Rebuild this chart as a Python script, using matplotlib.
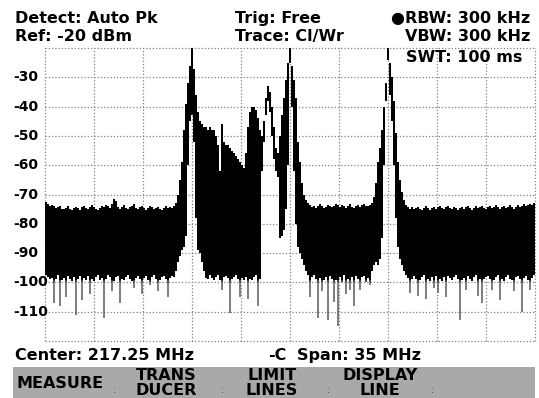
import numpy as np
import matplotlib
matplotlib.use("Agg")
import matplotlib.pyplot as plt
import matplotlib.transforms as mtransforms
from matplotlib.patches import Rectangle

# ---- instrument settings -------------------------------------------------
center_mhz = 217.25
span_mhz = 35.0
ref_dbm = -20
db_per_div = 10
n_div = 10

header_left = ["Detect: Auto Pk", "Ref: -20 dBm"]
header_mid = ["Trig: Free", "Trace: Cl/Wr"]
header_right = ["\u25cfRBW: 300 kHz", "VBW: 300 kHz", "SWT: 100 ms"]
footer_center = "Center: 217.25 MHz"
footer_span = "Span: 35 MHz"
softkeys = ["MEASURE", "TRANS\nDUCER", "LIMIT\nLINES", "DISPLAY\nLINE", ""]
y_tick_labels = [-30, -40, -50, -60, -70, -80, -90, -100, -110]

# ---- trace: max / min envelope per display column (dBm) -------------------
trace_max = [
    -72.5, -73.2, -73.8, -73.5, -74.0, -74.6, -74.2, -73.9, -74.8, -75.1,
    -74.5, -74.0, -74.9, -75.3, -74.6, -74.1, -74.7, -75.2, -74.4, -73.8,
    -74.5, -75.0, -74.3, -73.7, -74.2, -74.9, -75.4, -74.6, -74.0, -74.4,
    -73.6, -73.9, -74.5, -73.2, -71.6, -72.3, -74.1, -74.8, -74.2, -73.7,
    -74.5, -75.1, -74.3, -73.9, -73.4, -74.6, -75.0, -74.2, -73.8, -74.7,
    -75.2, -74.5, -73.9, -74.3, -75.0, -74.6, -74.1, -74.8, -75.3, -74.5,
    -74.0, -74.6, -74.2, -74.5, -74.0, -73.0, -70.0, -65.0, -59.0, -48.0,
    -39.0, -32.0, -26.0, -20.0, -27.0, -36.0, -42.0, -45.0, -46.0, -47.0,
    -47.0, -48.0, -47.0, -48.0, -48.0, -50.0, -53.0, -62.0, -46.0, -52.0,
    -53.0, -53.0, -54.0, -55.0, -56.0, -57.0, -58.0, -59.0, -60.0, -61.0,
    -56.0, -47.0, -42.0, -40.0, -40.0, -41.0, -44.0, -48.0, -50.0, -45.0,
    -37.0, -33.0, -35.0, -40.0, -47.0, -54.0, -56.0, -50.0, -43.0, -37.0,
    -31.0, -25.0, -20.0, -26.0, -31.0, -37.0, -52.0, -59.0, -66.0, -70.0,
    -72.0, -73.0, -73.6, -74.2, -73.8, -74.5, -73.9, -73.3, -74.0, -74.6,
    -74.1, -73.5, -73.8, -74.4, -73.9, -73.2, -73.7, -74.3, -73.6, -74.0,
    -74.5, -73.8, -73.4, -74.1, -74.6, -73.9, -73.5, -74.2, -73.7, -73.2,
    -73.8, -74.0, -73.5, -72.8, -71.0, -66.0, -59.0, -54.0, -48.0, -40.0,
    -32.0, -20.0, -25.0, -30.0, -38.0, -49.0, -59.0, -65.0, -69.0, -72.0,
    -73.5, -74.2, -74.8, -74.3, -75.0, -74.6, -74.1, -74.9, -75.2, -74.5,
    -74.0, -74.7, -75.3, -74.6, -74.2, -74.8, -74.4, -73.9, -74.6, -75.1,
    -74.3, -73.8, -74.5, -75.0, -74.2, -74.7, -75.3, -74.5, -74.1, -74.8,
    -74.4, -73.9, -74.6, -75.2, -74.5, -74.0, -74.7, -74.3, -73.8, -74.5,
    -75.0, -74.4, -73.9, -74.6, -74.2, -73.7, -74.4, -74.9, -74.3, -73.8,
    -74.5, -74.1, -73.6, -74.3, -74.8, -74.2, -73.7, -74.4, -73.9, -73.4,
    -74.0, -73.6, -73.2, -73.5, -73.0,
]
trace_min = [
    -97.5, -98.2, -99.0, -98.4, -107.0, -98.7, -97.6, -108.0, -99.2, -98.5,
    -105.0, -97.8, -98.9, -99.5, -98.1, -111.0, -99.0, -97.9, -106.0, -98.6,
    -99.3, -97.7, -104.0, -98.8, -99.6, -98.0, -97.4, -99.1, -98.5, -112.0,
    -98.9, -97.6, -98.3, -103.0, -99.4, -98.2, -97.9, -107.0, -98.8, -99.3,
    -98.1, -97.5, -98.9, -99.6, -102.0, -98.4, -97.8, -99.0, -104.0, -98.6,
    -97.9, -99.2, -101.0, -98.3, -97.6, -98.8, -103.0, -99.1, -98.2, -97.7,
    -99.0, -105.0, -98.5, -97.8, -98.0, -96.0, -93.0, -91.0, -89.0, -88.0,
    -84.0, -60.0, -45.0, -43.0, -52.0, -78.0, -89.0, -90.0, -93.0, -96.0,
    -98.5, -99.0, -97.6, -98.4, -99.2, -98.0, -97.5, -99.1, -102.6, -98.3,
    -97.8, -98.6, -110.5, -99.0, -98.2, -97.6, -98.9, -105.0, -98.4, -99.2,
    -98.1, -105.5, -98.7, -99.3, -98.0, -97.5, -108.0, -99.0, -62.0, -52.0,
    -43.0, -38.0, -42.0, -50.0, -58.0, -62.0, -64.0, -85.0, -84.0, -82.0,
    -75.0, -60.0, -25.0, -40.0, -62.0, -80.0, -88.0, -90.0, -92.0, -94.0,
    -96.0, -97.5, -105.0, -98.2, -97.6, -99.0, -112.0, -98.4, -103.0, -99.1,
    -98.0, -113.0, -97.7, -98.8, -106.7, -99.2, -115.0, -98.1, -100.0, -97.6,
    -104.0, -98.9, -102.6, -98.2, -108.0, -97.8, -99.0, -102.6, -98.3, -97.9,
    -100.0, -98.5, -101.0, -96.0, -94.0, -93.0, -94.0, -92.0, -85.0, -60.0,
    -38.0, -24.0, -36.0, -45.0, -60.0, -78.0, -88.0, -92.0, -94.0, -96.0,
    -97.5, -98.6, -103.6, -99.0, -97.8, -98.9, -104.7, -99.3, -98.1, -97.6,
    -105.6, -98.7, -99.4, -98.0, -102.0, -97.7, -103.6, -98.9, -99.5, -98.2,
    -105.0, -97.9, -98.6, -99.3, -98.0, -97.5, -98.8, -112.8, -99.1, -98.4,
    -102.6, -97.8, -98.9, -99.6, -98.2, -97.6, -104.7, -98.8, -107.0, -99.0,
    -98.3, -97.7, -98.9, -102.6, -99.2, -98.1, -97.5, -106.0, -98.7, -99.4,
    -98.0, -97.6, -98.9, -99.3, -103.0, -98.2, -97.8, -99.0, -110.0, -98.5,
    -97.9, -99.2, -102.6, -98.4, -97.6,
]

# ---- figure --------------------------------------------------------------
W, H = 539, 398
fig = plt.figure(figsize=(W / 100, H / 100), dpi=100)
fig.patch.set_facecolor("white")


def fx(px):
    return px / W


def fy(py):
    return 1 - py / H


ax = fig.add_axes([fx(45), fy(341), 490 / W, 293 / H])
f_start = center_mhz - span_mhz / 2
f_stop = center_mhz + span_mhz / 2
bottom_dbm = ref_dbm - n_div * db_per_div
ax.set_xlim(f_start, f_stop)
ax.set_ylim(bottom_dbm, ref_dbm)
ax.axis("off")

n = len(trace_max)
bin_mhz = span_mhz / n
freq = f_start + (np.arange(n) + 0.5) * bin_mhz

grid_kw = dict(color="#808080", lw=0.9, ls=(0, (1, 1.6)), zorder=1, clip_on=False)
for k in range(n_div + 1):
    ax.axvline(f_start + k * span_mhz / n_div, **grid_kw)
    ax.axhline(bottom_dbm + k * db_per_div, **grid_kw)

# auto-peak trace: each display column is a bar from its min to its max;
# the deep single-sample dips below the dense noise band show as thin grey
tmin = np.array(trace_min)
tmax = np.array(trace_max)
band_floor = -99.8
core_min = np.maximum(tmin, band_floor)
ax.bar(freq, tmax - core_min, bottom=core_min, width=bin_mhz * 1.15,
       color="black", linewidth=0, antialiased=False, zorder=3)
dips = tmin < band_floor
ax.vlines(freq[dips], tmin[dips], band_floor + 0.5, color="#5a5a5a",
          lw=1.1, zorder=3)

bold = dict(fontweight="bold", color="black", family="DejaVu Sans")
label_tf = mtransforms.blended_transform_factory(fig.transFigure, ax.transData)
for v in y_tick_labels:
    ax.text(fx(13), v, str(v), transform=label_tf,
            ha="left", va="center", fontsize=10, zorder=4, **bold)

# header
hdr = 11.5
fig.text(fx(15), fy(23), header_left[0], fontsize=hdr, va="baseline", **bold)
fig.text(fx(15), fy(41), header_left[1], fontsize=hdr, va="baseline", **bold)
fig.text(fx(235), fy(23), header_mid[0], fontsize=hdr, va="baseline", **bold)
fig.text(fx(235), fy(41), header_mid[1], fontsize=hdr, va="baseline", **bold)
fig.text(fx(530), fy(23), header_right[0], fontsize=hdr, va="baseline",
         ha="right", **bold)
fig.text(fx(530), fy(41), header_right[1], fontsize=hdr, va="baseline",
         ha="right", **bold)
fig.text(fx(522), fy(62), header_right[2], fontsize=hdr, va="baseline",
         ha="right", **bold)

# footer
fig.text(fx(15), fy(360), footer_center, fontsize=hdr, va="baseline", **bold)
fig.text(fx(268), fy(360), "-C", fontsize=hdr, va="baseline", **bold)
fig.text(fx(297), fy(360), footer_span, fontsize=hdr, va="baseline", **bold)

# softkey bar
fig.patches.append(Rectangle((fx(13), 0), fx(535) - fx(13), (H - 367) / H,
                             transform=fig.transFigure, facecolor="#a9a9a9",
                             edgecolor="none", zorder=0))
key_centers = [60, 166, 272, 380, 480]
for cx, lab in zip(key_centers, softkeys):
    if lab:
        fig.text(fx(cx), fy(383), lab, fontsize=hdr, ha="center", va="center",
                 linespacing=1.05, **bold)
for sx in [115, 222, 328, 433]:
    fig.text(fx(sx), fy(390), ":", fontsize=7, ha="center", va="center",
             color="#555555")

fig.savefig("out.png", dpi=100)
